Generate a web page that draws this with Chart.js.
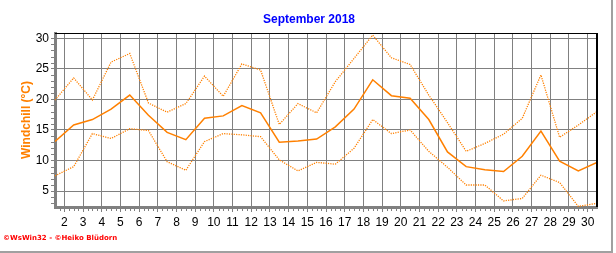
<!DOCTYPE html>
<html>
<head>
<meta charset="utf-8">
<script src="https://cdn.jsdelivr.net/npm/chart.js@4.4.1/dist/chart.umd.min.js"></script>
<style>
    html, body { margin: 0; padding: 0; background: #fff; }
    #wrap { position: relative; width: 616px; height: 253px; overflow: hidden; }
    #chart { position: absolute; left: 0; top: 0; }
    #title {
        position: absolute; left: 0; width: 618px; top: 12px;
        text-align: center; color: #0000ff;
        font: bold 12px "Liberation Sans", Arial, sans-serif; line-height: 14px;
    }
    #footer {
        position: absolute; left: 3px; top: 234px; color: #ff0000;
        font: bold 7px "DejaVu Sans", sans-serif; line-height: 9px; white-space: nowrap;
    }
    #frameR { position: absolute; left: 611px; top: 0; width: 2px; height: 253px; background: #a0a0a0; }
    #frameB { position: absolute; left: 0; top: 251px; width: 613px; height: 2px; background: #a0a0a0; }
</style>
</head>
<body>
<div id="wrap">
    <canvas id="chart" width="616" height="253"></canvas>
    <div id="title">September 2018</div>
    <div id="footer">©WsWin32 - ©Heiko Blüdorn</div>
    <div id="frameR"></div>
    <div id="frameB"></div>
</div>
<script>
// days of the month, values plotted at midday
const days = [1, 2, 3, 4, 5, 6, 7, 8, 9, 10, 11, 12, 13, 14, 15,
              16, 17, 18, 19, 20, 21, 22, 23, 24, 25, 26, 27, 28, 29, 30];

// windchill max / mean / min (°C)
const windchillMax = [19.9, 23.5, 19.9, 26.1, 27.5, 19.4, 17.9, 19.3, 23.8, 20.5,
                      25.8, 24.8, 15.9, 19.3, 17.8, 22.9, 26.7, 30.5, 26.8, 25.7,
                      20.7, 16.2, 11.5, 12.8, 14.3, 16.9, 24.0, 13.8, 15.8, 18.0];
const windchillAvg = [13.1, 15.8, 16.7, 18.4, 20.7, 17.4, 14.6, 13.4, 16.9, 17.3,
                      19.0, 17.8, 13.0, 13.2, 13.5, 15.5, 18.4, 23.2, 20.6, 20.2,
                      16.7, 11.4, 9.0, 8.5, 8.2, 10.7, 14.8, 9.9, 8.3, 9.7];
const windchillMin = [7.5, 9.0, 14.4, 13.6, 15.2, 14.9, 9.8, 8.4, 13.1, 14.4,
                      14.2, 13.9, 10.1, 8.3, 9.7, 9.4, 12.0, 16.7, 14.4, 15.0,
                      11.5, 8.9, 6.0, 6.0, 3.4, 3.8, 7.6, 6.4, 2.5, 3.0];

const xTicks = [2, 3, 4, 5, 6, 7, 8, 9, 10, 11, 12, 13, 14, 15, 16,
                17, 18, 19, 20, 21, 22, 23, 24, 25, 26, 27, 28, 29, 30];
const yTicks = [5, 10, 15, 20, 25, 30];

const ORANGE = "#ff8000";
const GRID = "#808080";

const toPoints = (vals) => days.map((d, i) => ({ x: d + 0.5, y: vals[i] }));

// minor ticks, top/right frame of the plot
const framePlugin = {
    id: "frame",
    afterDraw(chart) {
        const { ctx, chartArea: a, scales: { x, y } } = chart;
        ctx.save();
        ctx.strokeStyle = GRID;
        ctx.lineWidth = 1;
        ctx.beginPath();
        for (let v = 3; v <= 30; v++) {
            if (v % 5 === 0) continue;
            const py = Math.round(y.getPixelForValue(v)) + 0.5;
            ctx.moveTo(a.left - 4, py);
            ctx.lineTo(a.left - 1, py);
        }
        for (let t = 1.75; t < 30.5; t += 0.25) {
            if (Number.isInteger(t)) continue;
            const px = Math.round(x.getPixelForValue(t)) + 0.5;
            ctx.moveTo(px, a.bottom + 1);
            ctx.lineTo(px, a.bottom + 4);
        }
        ctx.stroke();

        ctx.strokeStyle = "#000";
        ctx.beginPath();
        ctx.lineWidth = 1;
        ctx.moveTo(a.left, a.top + 0.5);
        ctx.lineTo(a.right + 1, a.top + 0.5);
        ctx.stroke();
        ctx.beginPath();
        ctx.lineWidth = 2;
        ctx.moveTo(a.right, a.top);
        ctx.lineTo(a.right, a.bottom);
        ctx.stroke();
        ctx.restore();
    }
};

const lineSet = (label, vals, dotted) => ({
    label,
    data: toPoints(vals),
    borderColor: ORANGE,
    borderWidth: dotted ? 1.3 : 1.5,
    borderDash: dotted ? [1.2, 1.2] : [],
    pointRadius: 0,
    tension: 0,
    fill: false
});

new Chart(document.getElementById("chart"), {
    type: "line",
    data: {
        datasets: [
            lineSet("Max", windchillMax, true),
            lineSet("Mittel", windchillAvg, false),
            lineSet("Min", windchillMin, true)
        ]
    },
    options: {
        responsive: false,
        animation: false,
        devicePixelRatio: 1,
        layout: { padding: { top: 33, right: 19, left: 0, bottom: 0 } },
        plugins: { legend: { display: false }, tooltip: { enabled: false } },
        scales: {
            x: {
                type: "linear",
                min: 1.5,
                max: 30.5,
                afterBuildTicks: (s) => { s.ticks = xTicks.map((v) => ({ value: v })); },
                afterFit: (s) => { s.height = 46; },
                grid: {
                    color: GRID, lineWidth: 1, borderDash: [4, 3],
                    tickLength: 5, tickColor: GRID, tickBorderDash: []
                },
                border: { color: GRID, width: 3 },
                ticks: {
                    color: "#000", padding: 3, maxRotation: 0, autoSkip: false,
                    font: { family: "'Liberation Sans', Arial, sans-serif", size: 12 }
                }
            },
            y: {
                min: 2.4,
                max: 30.85,
                afterBuildTicks: (s) => { s.ticks = yTicks.map((v) => ({ value: v })); },
                afterFit: (s) => { s.width = 55; },
                grid: {
                    color: GRID, lineWidth: 1, borderDash: [4, 3],
                    tickLength: 4, tickColor: GRID, tickBorderDash: []
                },
                border: { color: GRID, width: 3 },
                ticks: {
                    color: "#000", padding: 2,
                    font: { family: "'Liberation Sans', Arial, sans-serif", size: 12 }
                },
                title: {
                    display: true,
                    text: "Windchill (°C)",
                    color: ORANGE,
                    padding: { top: 19, bottom: 0 },
                    font: { family: "'Liberation Sans', Arial, sans-serif", size: 12, weight: "bold" }
                }
            }
        }
    },
    plugins: [framePlugin]
});
</script>
</body>
</html>
